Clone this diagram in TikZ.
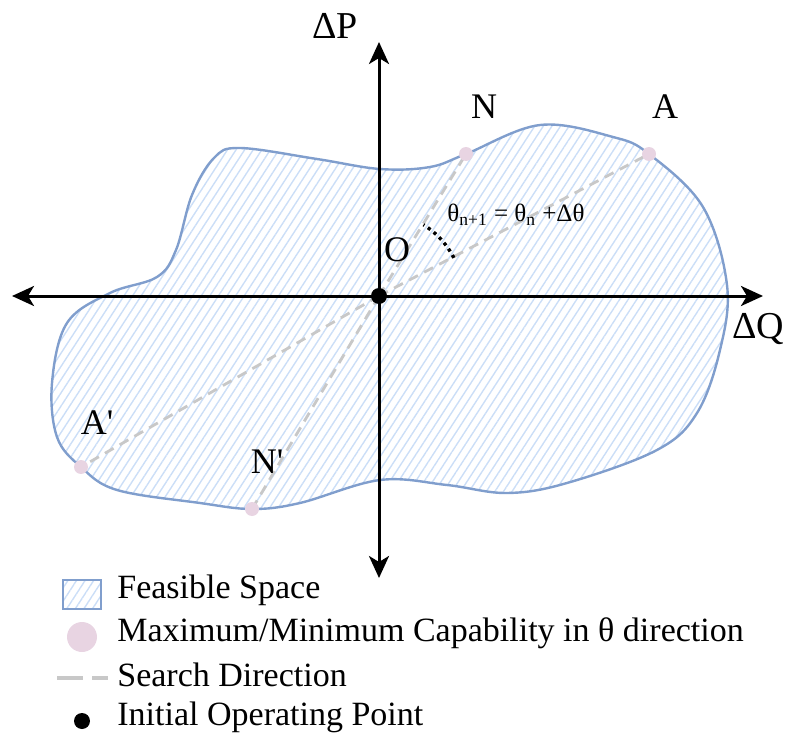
\documentclass[tikz,border=0pt]{standalone}
\usepackage{fontspec}
\setmainfont{Liberation Serif}
\usetikzlibrary{arrows.meta,patterns.meta}
\definecolor{blobline}{RGB}{128,158,205}
\definecolor{hatchblue}{RGB}{203,222,247}
\definecolor{pinkdot}{RGB}{232,212,226}
\definecolor{searchgray}{RGB}{200,200,200}
\tikzset{
  axis/.style={line width=1.5pt,-{Stealth[length=11pt,width=10pt,inset=3pt]}},
  blob/.style={draw=blobline,line width=1.2pt,pattern={Lines[angle=57,distance=3.6pt,line width=0.7pt]},pattern color=hatchblue},
  search/.style={draw=searchgray,line width=1.4pt,dash pattern=on 5pt off 3.5pt},
  capdot/.style={circle,fill=pinkdot,inner sep=0pt,minimum size=7pt},
  origdot/.style={circle,fill=black,inner sep=0pt,minimum size=8pt},
  biglabel/.style={font=\fontsize{19}{22}\selectfont,inner sep=0pt},
  ptlabel/.style={font=\fontsize{18}{21}\selectfont,inner sep=0pt},
  legtext/.style={font=\fontsize{17}{20}\selectfont,anchor=west,inner sep=0pt},
  dotarc/.style={line width=1.7pt,dash pattern=on 1.6pt off 2.1pt}
}
\begin{document}
\begin{tikzpicture}[x=0.5pt,y=-0.5pt]
\useasboundingbox (0,0) rectangle (788,738);
% feasible region
\path[blob] plot[smooth cycle,tension=0.6] coordinates {
(240,148) (317,159) (380,169) (430,167) (466,154) (540,125) (613,137) (649,154) (703,207) (727,285) (720,350) (697,413) (657,450) (567,483) (507,493) (447,485) (380,480) (300,503) (252,509) (200,503) (117,490) (81,467) (57,437) (52,383) (67,323) (110,293) (157,277) (176,250) (192,195) (214,158)};
% coordinates
\coordinate (pO) at (379,296);
\coordinate (pN) at (466,154);
\coordinate (pA) at (649,154);
\coordinate (pAp) at (81,467);
\coordinate (pNp) at (252,509);
\coordinate (xl) at (12,296);
\coordinate (xr) at (763,296);
\coordinate (yt) at (379,42);
\coordinate (yb) at (379,578);
% axes
\draw[axis] (pO) -- (xr);
\draw[axis] (pO) -- (xl);
\draw[axis] (pO) -- (yt);
\draw[axis] (pO) -- (yb);
% search directions
\draw[search] (pO) -- (pN);
\draw[search] (pO) -- (pA);
\draw[search] (pO) -- (pAp);
\draw[search] (pO) -- (pNp);
% angle arc
\draw[dotarc] plot[domain=27:58,samples=25] ({379+84*cos(\x)},{296-84*sin(\x)});
% points
\node[capdot] (N) at (pN) {};
\node[capdot] (A) at (pA) {};
\node[capdot] (Ap) at (pAp) {};
\node[capdot] (Np) at (pNp) {};
\node[origdot] (O) at (pO) {};
% labels
\node[biglabel] (lP) at (335,26) {ΔP};
\node[biglabel] (lQ) at (758,329) {ΔQ};
\node[ptlabel] (lN) at (484,107) {N};
\node[ptlabel] (lA) at (665,107) {A};
\node[ptlabel] (lO) at (397,250) {O};
\node[ptlabel] (lAp) at (97,423) {A\textquotesingle};
\node[ptlabel] (lNp) at (267,462) {N\textquotesingle};
\node[font=\fontsize{12.5}{15}\selectfont,inner sep=0pt] (form) at (516,215) {θ\textsubscript{n+1} = θ\textsubscript{n} +Δθ};
% legend
\path[blob] (63,580) rectangle (101,609);
\node[legtext] (t1) at (117,590) {Feasible Space};
\node[circle,fill=pinkdot,inner sep=0pt,minimum size=15pt] (l2) at (82,637) {};
\node[legtext] (t2) at (117,633) {Maximum/Minimum Capability in θ direction};
\coordinate (ls1) at (57,678);
\coordinate (ls2) at (108,678);
\draw[draw=searchgray,line width=2pt,dash pattern=on 13pt off 4.5pt] (ls1) -- (ls2);
\node[legtext] (t3) at (117,675) {Search Direction};
\node[origdot] (l4) at (82,721) {};
\node[legtext] (t4) at (117,717) {Initial Operating Point};
\end{tikzpicture}
\end{document}
